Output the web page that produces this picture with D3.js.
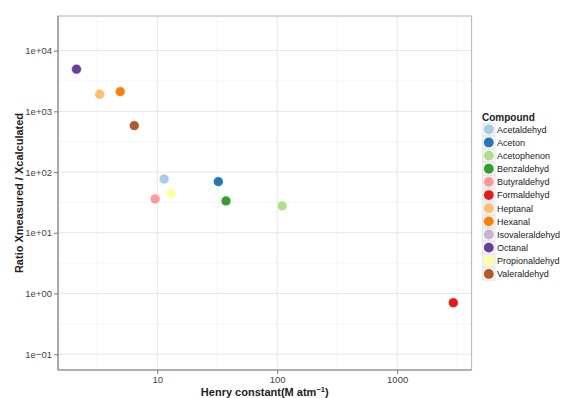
<!DOCTYPE html>
<html><head><meta charset="utf-8">
<script src="https://cdn.jsdelivr.net/npm/d3@7"></script>
<style>body{margin:0;background:#fff;}svg{display:block;font-family:"Liberation Sans",Arial,sans-serif;}</style>
</head><body>
<svg id="chart" width="562" height="398"></svg>
<script>
const compounds = ["Acetaldehyd","Aceton","Acetophenon","Benzaldehyd","Butyraldehyd","Formaldehyd","Heptanal","Hexanal","Isovaleraldehyd","Octanal","Propionaldehyd","Valeraldehyd"];
const henry = [11.4, 32.3, 110, 37.4, 9.6, 2940, 3.31, 4.91, null, 2.12, 13.0, 6.43];
const ratio = [76.9, 69.5, 27.7, 33.4, 36.0, 0.705, 1914, 2112, null, 4940, 44.8, 581];
const colors = ["#A6CEE3","#1F78B4","#B2DF8A","#33A02C","#FB9A99","#E31A1C","#FDBF6F","#FF7F00","#CAB2D6","#6A3D9A","#FFFF99","#B15928"];
const xTicks = [10, 100, 1000];
const yTicks = [0.1, 1, 10, 100, 1000, 10000];
const yTickLabels = ["1e\u221201","1e+00","1e+01","1e+02","1e+03","1e+04"];

const svg = d3.select("#chart");
const L = 58, R = 471.5, T = 16, B = 370;
const x = d3.scaleLog().domain([Math.pow(10,0.172), Math.pow(10,3.62)]).range([L, R]);
const y = d3.scaleLog().domain([Math.pow(10,-1.26), Math.pow(10,4.57)]).range([B, T]);

// gridlines
const g = svg.append("g");
const xMinor = [Math.pow(10,0.5), Math.pow(10,1.5), Math.pow(10,2.5), Math.pow(10,3.5)];
const yMinor = [-1.5,-0.5,0.5,1.5,2.5,3.5].map(e=>Math.pow(10,e)).filter(v=>v>=y.domain()[0]&&v<=y.domain()[1]);
g.selectAll(".xm").data(xMinor).join("line").attr("x1",d=>x(d)).attr("x2",d=>x(d)).attr("y1",T).attr("y2",B).attr("stroke","#f5f5f5").attr("stroke-width",1);
g.selectAll(".ym").data(yMinor).join("line").attr("y1",d=>y(d)).attr("y2",d=>y(d)).attr("x1",L).attr("x2",R).attr("stroke","#f5f5f5").attr("stroke-width",1);
g.selectAll(".xM").data(xTicks).join("line").attr("x1",d=>x(d)).attr("x2",d=>x(d)).attr("y1",T).attr("y2",B).attr("stroke","#e6e6e6").attr("stroke-width",1);
g.selectAll(".yM").data(yTicks).join("line").attr("y1",d=>y(d)).attr("y2",d=>y(d)).attr("x1",L).attr("x2",R).attr("stroke","#e6e6e6").attr("stroke-width",1);

// panel border
svg.append("rect").attr("x",L).attr("y",T).attr("width",R-L).attr("height",B-T).attr("fill","none").attr("stroke","#bdbdbd").attr("stroke-width",1.2);
svg.append("line").attr("x1",L).attr("x2",L).attr("y1",T).attr("y2",B).attr("stroke","#8a8a8a").attr("stroke-width",1.2);
svg.append("line").attr("x1",L).attr("x2",R).attr("y1",B).attr("y2",B).attr("stroke","#8a8a8a").attr("stroke-width",1.2);

// axes
const xAxis = d3.axisBottom(x).tickValues(xTicks).tickFormat(d3.format("d")).tickSize(4).tickPadding(2);
const yAxis = d3.axisLeft(y).tickValues(yTicks).tickFormat((d,i)=>yTickLabels[i]).tickSize(4).tickPadding(2);
const gx = svg.append("g").attr("transform",`translate(0,${B})`).call(xAxis);
const gy = svg.append("g").attr("transform",`translate(${L},0)`).call(yAxis);
[gx,gy].forEach(a=>{
  a.select(".domain").remove();
  a.selectAll(".tick line").attr("stroke","#777");
  a.selectAll(".tick text").attr("fill","#444").attr("font-size","9.5px");
});

// points
const data = compounds.map((c,i)=>({c, x:henry[i], y:ratio[i], col:colors[i]})).filter(d=>d.x!=null&&d.y!=null);
svg.append("g").selectAll("circle").data(data).join("circle")
  .attr("cx",d=>x(d.x)).attr("cy",d=>y(d.y)).attr("r",4.9).attr("fill",d=>d.col)
  .attr("stroke","#fff").attr("stroke-width",0.5);

// axis titles
svg.append("text").attr("x",(L+R)/2).attr("y",395.5).attr("text-anchor","middle")
  .attr("font-size","11px").attr("font-weight","bold").attr("fill","#222")
  .html('Henry constant(M atm<tspan dy="-4" font-size="7.5px">\u22121</tspan><tspan dy="4">)</tspan>');
svg.append("text").attr("transform",`translate(23,${(T+B)/2}) rotate(-90)`).attr("text-anchor","middle")
  .attr("font-size","11px").attr("font-weight","bold").attr("fill","#222")
  .text("Ratio Xmeasured / Xcalculated");

// legend
const lg = svg.append("g").attr("transform","translate(482,0)");
lg.append("text").attr("x",0).attr("y",120.5).attr("font-size","10px").attr("font-weight","bold").attr("fill","#222").text("Compound");
const items = lg.selectAll(".it").data(compounds).join("g").attr("transform",(d,i)=>`translate(0,${129.3+i*13.15})`);
items.append("rect").attr("x",0.5).attr("y",-6.3).attr("width",12.6).attr("height",12.6).attr("fill","#f2f2f2").attr("stroke","#e0e0e0").attr("stroke-width",0.6);
items.append("circle").attr("cx",6.8).attr("cy",0).attr("r",4.9).attr("fill",(d,i)=>colors[i]);
items.append("text").attr("x",15).attr("y",3.3).attr("font-size","9px").attr("fill","#222").text(d=>d);
</script>
</body></html>
